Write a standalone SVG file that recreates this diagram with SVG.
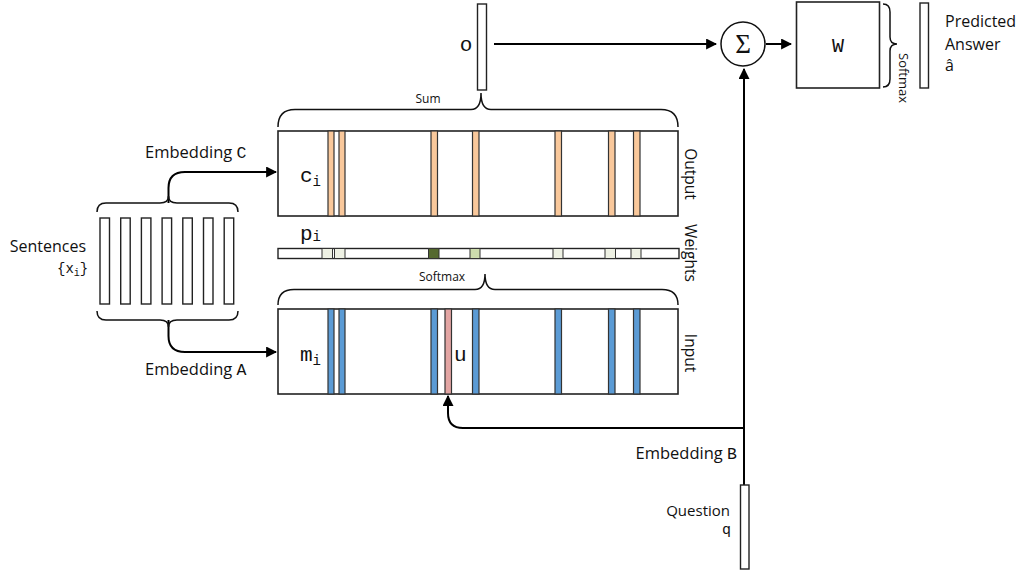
<svg xmlns="http://www.w3.org/2000/svg" width="1022" height="574" viewBox="0 0 1022 574">
<defs>
<style>
.box{fill:#fff;stroke:#222;stroke-width:1.6}
.vec{fill:#fff;stroke:#222;stroke-width:1.4}
.or{fill:#f9c89b;stroke:#333;stroke-width:1.2}
.bl{fill:#5b9bd5;stroke:#333;stroke-width:1.2}
.pk{fill:#e3a5a3;stroke:#333;stroke-width:1.2}
.wl{fill:#eef1e4;stroke:#333;stroke-width:1}
.wm{fill:#cddcad;stroke:#333;stroke-width:1}
.wd{fill:#55692f;stroke:#333;stroke-width:1}
.br{fill:none;stroke:#111;stroke-width:1.5}
.ln{fill:none;stroke:#000;stroke-width:2}
.s{font-family:"Open Sans","Liberation Sans",sans-serif;fill:#111}
.m{font-family:"Liberation Mono","DejaVu Sans Mono",monospace;fill:#111}
</style>
<marker id="ar" viewBox="0 0 10 10" refX="9" refY="5" markerWidth="5.5" markerHeight="5.5" orient="auto" markerUnits="strokeWidth">
<path d="M0,0 L10,5 L0,10 z" fill="#000"/>
</marker>
</defs>

<g id="connectors">
<path class="ln" d="M494,44 H716" marker-end="url(#ar)"/>
<path class="ln" d="M766,44 H791" marker-end="url(#ar)"/>
<path class="ln" d="M744,485 V69" marker-end="url(#ar)"/>
<path class="ln" d="M744,428 H463 Q448,428 448,413 V396" marker-end="url(#ar)"/>
<path class="ln" d="M168.5,203 V188 Q168.5,172 185,172 H276" marker-end="url(#ar)"/>
<path class="ln" d="M168.5,320 V336 Q168.5,352 185,352 H276" marker-end="url(#ar)"/>
</g>

<g id="sentences">
<rect class="vec" x="100" y="218" width="9.5" height="86"/>
<rect class="vec" x="120.7" y="218" width="9.5" height="86"/>
<rect class="vec" x="141.4" y="218" width="9.5" height="86"/>
<rect class="vec" x="162.1" y="218" width="9.5" height="86"/>
<rect class="vec" x="182.8" y="218" width="9.5" height="86"/>
<rect class="vec" x="203.5" y="218" width="9.5" height="86"/>
<rect class="vec" x="224.2" y="218" width="9.5" height="86"/>
<path class="br" d="M97,212 Q97,203 106,203 H160 Q168.5,203 168.5,196 Q168.5,203 177,203 H229 Q238,203 238,212"/>
<path class="br" d="M97,311 Q97,320 106,320 H160 Q168.5,320 168.5,327 Q168.5,320 177,320 H229 Q238,320 238,311"/>
<text class="s" x="86" y="252" font-size="16" text-anchor="end">Sentences</text>
<text class="m" x="57" y="273" font-size="14">{x<tspan font-size="10" dy="3">i</tspan><tspan dy="-3">}</tspan></text>
<text class="s" x="145" y="158" font-size="16.5">Embedding <tspan class="m">C</tspan></text>
<text class="s" x="145" y="375" font-size="16.5">Embedding <tspan class="m">A</tspan></text>
</g>

<g id="output">
<rect class="box" x="278" y="131" width="400" height="85"/>
<rect class="or" x="328" y="131" width="6" height="85"/>
<rect class="or" x="339" y="131" width="6" height="85"/>
<rect class="or" x="431" y="131" width="6.5" height="85"/>
<rect class="or" x="472.5" y="131" width="6.5" height="85"/>
<rect class="or" x="555" y="131" width="6.5" height="85"/>
<rect class="or" x="608.5" y="131" width="6.5" height="85"/>
<rect class="or" x="633.5" y="131" width="6.5" height="85"/>
<text class="m" x="300" y="182" font-size="21">c<tspan font-size="14" dy="4">i</tspan></text>
<text class="s" x="690" y="174" font-size="15.5" text-anchor="middle" transform="rotate(90 690 174)" dy="5">Output</text>
</g>

<g id="weights">
<rect class="vec" x="278" y="248.5" width="401" height="10"/>
<rect class="wl" x="322" y="248.5" width="10.5" height="10"/>
<rect class="wl" x="334.5" y="248.5" width="10.5" height="10"/>
<rect class="wd" x="428.5" y="248.5" width="10.5" height="10"/>
<rect class="wm" x="470" y="248.5" width="10" height="10"/>
<rect class="wl" x="553" y="248.5" width="10" height="10"/>
<rect class="wl" x="605" y="248.5" width="10.5" height="10"/>
<rect class="wl" x="631" y="248.5" width="10" height="10"/>
<text class="m" x="300" y="240" font-size="21">p<tspan font-size="14" dy="1">i</tspan></text>
<text class="s" x="690" y="253" font-size="15.5" text-anchor="middle" transform="rotate(90 690 253)" dy="5">Weights</text>
</g>

<g id="softmax-brace">
<path class="br" d="M278,305 Q278,289.5 294,289.5 H475 Q485,289.5 485,274 Q485,289.5 495,289.5 H662 Q678,289.5 678,305"/>
<text class="s" x="442" y="281" font-size="12" text-anchor="middle">Softmax</text>
</g>

<g id="input">
<rect class="box" x="278" y="309" width="400" height="85"/>
<rect class="bl" x="328" y="309" width="6" height="85"/>
<rect class="bl" x="339" y="309" width="6" height="85"/>
<rect class="bl" x="431" y="309" width="6.5" height="85"/>
<rect class="pk" x="445" y="309" width="6.5" height="85"/>
<rect class="bl" x="472.5" y="309" width="6.5" height="85"/>
<rect class="bl" x="555" y="309" width="6.5" height="85"/>
<rect class="bl" x="608.5" y="309" width="6.5" height="85"/>
<rect class="bl" x="633.5" y="309" width="6.5" height="85"/>
<text class="m" x="300" y="361" font-size="21">m<tspan font-size="14" dy="4">i</tspan></text>
<text class="m" x="454" y="361" font-size="21">u</text>
<text class="s" x="690" y="353" font-size="15.5" text-anchor="middle" transform="rotate(90 690 353)" dy="5">Input</text>
</g>

<g id="sum-brace">
<path class="br" d="M278,127 Q278,109.5 295,109.5 H471 Q481,109.5 481,93 Q481,109.5 491,109.5 H661 Q678,109.5 678,127"/>
<text class="s" x="428" y="103" font-size="12" text-anchor="middle">Sum</text>
</g>

<g id="o-vector">
<rect class="vec" x="477.5" y="4" width="9" height="86"/>
<text class="m" x="466" y="51" font-size="21" text-anchor="middle">o</text>
</g>

<g id="sigma">
<circle cx="743" cy="44" r="22" fill="#fff" stroke="#111" stroke-width="1.5"/>
<text x="743" y="53" font-family="'Liberation Serif','DejaVu Serif',serif" font-size="27" text-anchor="middle" fill="#111">Σ</text>
</g>

<g id="w-box">
<rect class="box" x="796.5" y="2" width="83" height="86"/>
<text class="m" x="838" y="52" font-size="20" text-anchor="middle">W</text>
<path class="br" d="M883,4 Q890,4 890,12 V37 Q890,44 897,44 Q890,44 890,51 V79 Q890,87 883,87"/>
<text class="s" x="899" y="53" font-size="13" transform="rotate(90 899 53)">Softmax</text>
</g>

<g id="answer">
<rect class="vec" x="920" y="3" width="8.5" height="85"/>
<text class="s" x="945" y="27" font-size="16">Predicted</text>
<text class="s" x="945" y="50" font-size="16">Answer</text>
<text class="s" x="945" y="71" font-size="16">â</text>
</g>

<g id="question">
<rect class="vec" x="740.5" y="485" width="8.5" height="84"/>
<text class="s" x="737" y="459" font-size="16.5" text-anchor="end">Embedding <tspan class="m">B</tspan></text>
<text class="s" x="730" y="516" font-size="15" text-anchor="end">Question</text>
<text class="m" x="731" y="534" font-size="15" text-anchor="end">q</text>
</g>
</svg>
